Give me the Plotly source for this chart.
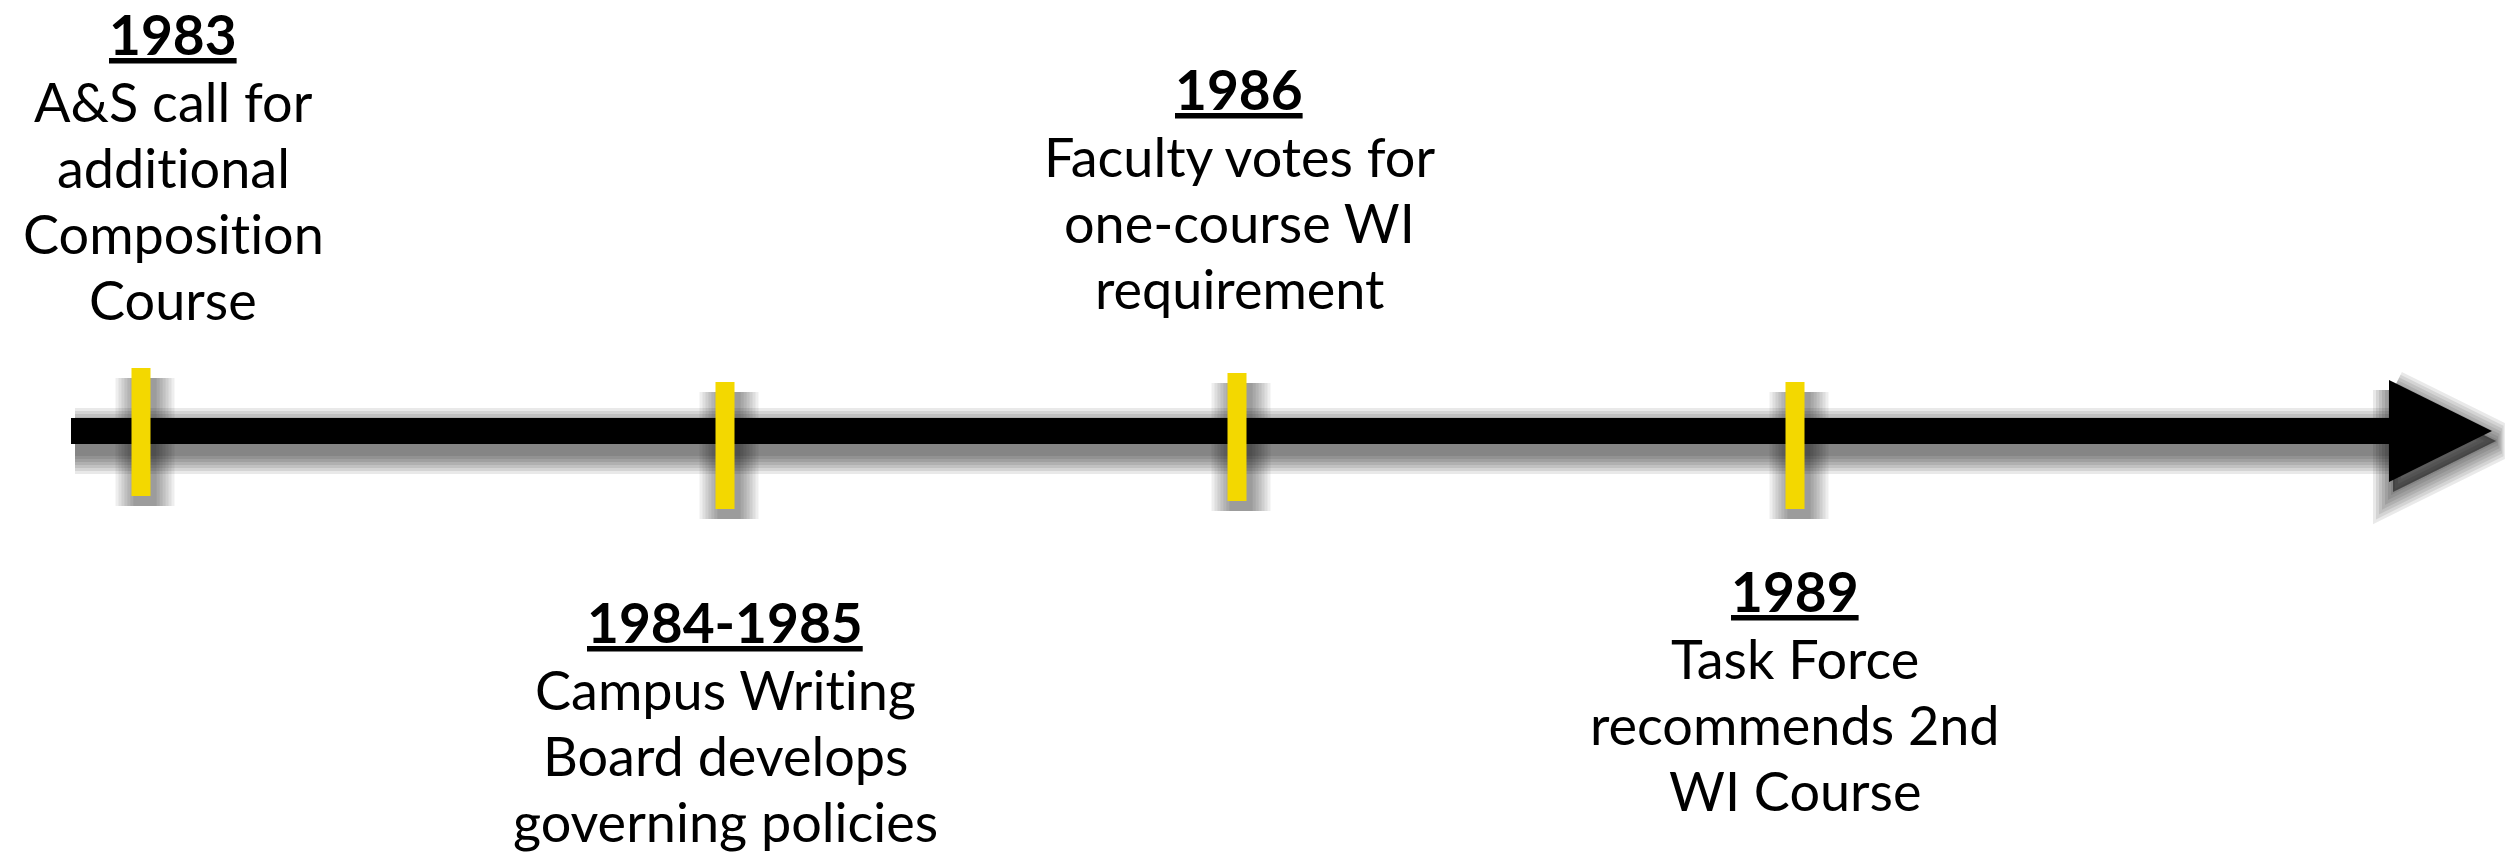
import plotly.graph_objects as go

# ---- data ----
years = ["1983", "1984-1985", "1986", "1989"]
descriptions = [
    ["A&S call for", "additional", "Composition", "Course"],
    ["Campus Writing", "Board develops", "governing policies"],
    ["Faculty votes for", "one-course WI", "requirement"],
    ["Task Force", "recommends 2nd", "WI Course"],
]
# timeline positions of the event markers (timeline units = canvas px)
event_pos = [141, 725, 1237, 1795]
marker_top = [368, 382, 373, 382]
marker_bottom = [496, 509, 501, 509]
label_x = [173, 725, 1239, 1795]
heading_baseline = [55, 643, 110, 612]

# timeline arrow
axis_start = 71
axis_end = 2389
arrow_tip = 2492
axis_y = 431
head_half = 51

# ---- style ----
W, H = 2511, 859
BAR_W = 26
TICK_W = 19
YELLOW = "#F3D800"
BODY_FONT = dict(family="Lato", size=54, color="black")
HEAD_FONT = dict(family="Lato", size=55, color="black")
LINE_GAP = 66
FIRST_GAP = 67
SH_DX, SH_DY = 4, 10
SH_LAYERS = [4, 10, 16, 22, 28, 34, 40]
SH_ALPHA = 0.085

fig = go.Figure()

def add_line(x, y, width, color, opacity=1.0):
    fig.add_trace(go.Scatter(x=x, y=y, mode="lines", hoverinfo="skip",
                             line=dict(color=color, width=width),
                             opacity=opacity, showlegend=False))

def add_poly(x, y, color, lw=0, opacity=1.0):
    fig.add_trace(go.Scatter(x=x, y=y, mode="lines", fill="toself",
                             fillcolor=color, hoverinfo="skip",
                             line=dict(color=color, width=lw),
                             opacity=opacity, showlegend=False))

head_x = [axis_end, arrow_tip, axis_end, axis_end]
head_y = [axis_y - head_half, axis_y, axis_y + head_half, axis_y - head_half]

# shadows of axis + head
for w in SH_LAYERS:
    add_line([axis_start + SH_DX, axis_end + SH_DX], [axis_y + SH_DY, axis_y + SH_DY],
             BAR_W + w, "rgba(0,0,0,%.3f)" % SH_ALPHA)
    add_poly([v + SH_DX for v in head_x], [v + SH_DY for v in head_y],
             "rgba(0,0,0,%.3f)" % SH_ALPHA, lw=w)

# axis bar + head
add_line([axis_start, axis_end + 2], [axis_y, axis_y], BAR_W, "black")
add_poly(head_x, head_y, "black")

# marker shadows + markers
for p, t, b in zip(event_pos, marker_top, marker_bottom):
    for w in SH_LAYERS:
        add_line([p + SH_DX, p + SH_DX], [t + SH_DY, b + SH_DY],
                 TICK_W + w, "rgba(0,0,0,%.3f)" % (SH_ALPHA * 0.8))
for p, t, b in zip(event_pos, marker_top, marker_bottom):
    add_line([p, p], [t, b], TICK_W, YELLOW)

# labels
annotations = []
def baseline_to_mid(baseline, size):
    return baseline - 0.387 * size

NOLIG = '<span style="font-variant-ligatures:none">%s</span>'

for yr, lines, lx, hb in zip(years, descriptions, label_x, heading_baseline):
    annotations.append(dict(x=lx, y=baseline_to_mid(hb, HEAD_FONT["size"]),
                            text="<b><u>%s</u></b>" % yr, showarrow=False,
                            xanchor="center", yanchor="middle", font=HEAD_FONT))
    for i, ln in enumerate(lines):
        bl = hb + FIRST_GAP + LINE_GAP * i
        annotations.append(dict(x=lx, y=baseline_to_mid(bl, BODY_FONT["size"]),
                                text=NOLIG % ln, showarrow=False, xanchor="center",
                                yanchor="middle", font=BODY_FONT))

fig.update_layout(
    width=W, height=H,
    margin=dict(l=0, r=0, t=0, b=0),
    paper_bgcolor="white", plot_bgcolor="white",
    xaxis=dict(range=[0, W], visible=False, fixedrange=True),
    yaxis=dict(range=[H, 0], visible=False, fixedrange=True),
    annotations=annotations,
    showlegend=False,
)

fig.write_html(
    "out.html",
    config={"displayModeBar": False},
    post_script="document.body.style.margin='0px';document.body.style.overflow='hidden';",
)
